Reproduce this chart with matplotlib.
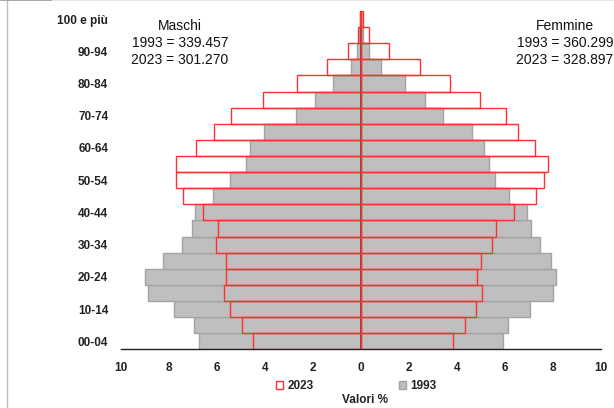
import matplotlib
matplotlib.use("Agg")
import matplotlib.pyplot as plt
from matplotlib.lines import Line2D
from matplotlib.patches import Patch
import numpy as np

plt.rcParams["font.family"] = ["Liberation Sans", "DejaVu Sans"]

# classi di età, dal basso verso l'alto
age_groups = ["00-04", "05-09", "10-14", "15-19", "20-24", "25-29", "30-34",
              "35-39", "40-44", "45-49", "50-54", "55-59", "60-64", "65-69",
              "70-74", "75-79", "80-84", "85-89", "90-94", "95-99", "100 e più"]

maschi_1993 = [6.75, 6.94, 7.80, 8.86, 9.00, 8.24, 7.43, 7.05, 6.92, 6.15, 5.43,
               4.79, 4.63, 4.03, 2.68, 1.92, 1.15, 0.42, 0.15, 0.07, 0.01]
maschi_2023 = [4.49, 4.93, 5.46, 5.71, 5.63, 5.60, 6.01, 5.95, 6.57, 7.42, 7.68,
               7.71, 6.85, 6.11, 5.39, 4.07, 2.64, 1.39, 0.53, 0.11, 0.02]
femmine_1993 = [5.95, 6.13, 7.04, 8.03, 8.15, 7.92, 7.47, 7.11, 6.94, 6.18, 5.58,
                5.35, 5.13, 4.63, 3.44, 2.67, 1.86, 0.86, 0.33, 0.10, 0.02]
femmine_2023 = [3.86, 4.35, 4.79, 5.07, 4.86, 5.01, 5.49, 5.65, 6.38, 7.29, 7.65,
                7.82, 7.25, 6.56, 6.04, 4.96, 3.74, 2.46, 1.18, 0.35, 0.08]

x_ticks = [-10, -8, -6, -4, -2, 0, 2, 4, 6, 8, 10]

GRAY_FILL = "#bfbfbf"
GRAY_EDGE = "#a3a3a3"
RED = "#ff3030"
BOLD = dict(fontsize=8.5, fontweight="bold", color="#222222")

fig = plt.figure(figsize=(6.14, 4.08), dpi=100)
ax = fig.add_axes([0.1966, 0.1439, 0.7817, 0.8291])

y = np.arange(len(age_groups))

# 1993: barre grigie piene
ax.barh(y, -np.array(maschi_1993), height=1.0, color=GRAY_FILL,
        edgecolor=GRAY_EDGE, linewidth=1.0, zorder=2)
ax.barh(y, femmine_1993, height=1.0, color=GRAY_FILL,
        edgecolor=GRAY_EDGE, linewidth=1.0, zorder=2)

# asse dello zero
ax.axvline(0, color="#404040", lw=1.2, zorder=2.5)

# 2023: solo contorno rosso
ax.barh(y, -np.array(maschi_2023), height=1.0, facecolor="none",
        edgecolor=RED, linewidth=1.0, zorder=3)
ax.barh(y, femmine_2023, height=1.0, facecolor="none",
        edgecolor=RED, linewidth=1.0, zorder=3)

ax.set_xlim(-10, 10)
ax.set_ylim(-0.5, len(age_groups) - 0.5)
ax.set_xticks(x_ticks)
ax.set_xticklabels([str(abs(t)) for t in x_ticks], **BOLD)
ax.set_yticks(y[::2])
ax.set_yticklabels(age_groups[::2], **BOLD)
ax.tick_params(axis="both", length=0)
ax.tick_params(axis="x", pad=9)
ax.tick_params(axis="y", pad=9)
for side in ("top", "right", "left"):
    ax.spines[side].set_visible(False)
ax.spines["bottom"].set_color("#222222")
ax.spines["bottom"].set_linewidth(1.0)

# totali per sesso
fig.text(180 / 614, 1 - 43 / 408, "Maschi\n1993 = 339.457\n2023 = 301.270",
         ha="center", va="center", fontsize=10, linespacing=1.3, color="#111111")
fig.text(565 / 614, 1 - 43 / 408, "Femmine\n1993 = 360.299\n2023 = 328.897",
         ha="center", va="center", fontsize=10, linespacing=1.3, color="#111111")

# legenda
handles = [Patch(facecolor="white", edgecolor=RED, linewidth=1.0, label="2023"),
           Patch(facecolor=GRAY_FILL, edgecolor=GRAY_EDGE, linewidth=1.0, label="1993")]
leg = fig.legend(handles=handles, loc="center", bbox_to_anchor=(356 / 614, 1 - 386 / 408),
                 ncol=2, frameon=False, handlelength=0.6, handleheight=0.6,
                 handletextpad=0.4, columnspacing=7.2,
                 prop=dict(size=8.5, weight="bold"))
for t in leg.get_texts():
    t.set_color("#222222")
fig.text(365 / 614, 1 - 400 / 408, "Valori %", ha="center", va="center", **BOLD)

# cornice dello screenshot
fig.add_artist(Line2D([6.5 / 614, 6.5 / 614], [0, 1], color="#bdbdbd", lw=1.0))
fig.add_artist(Line2D([0, 52 / 614], [0.999, 0.999], color="#9a9a9a", lw=1.2))
fig.add_artist(Line2D([52 / 614, 1], [0.999, 0.999], color="#e6e6e6", lw=0.8))

fig.savefig("out.png", dpi=100, facecolor="white")
